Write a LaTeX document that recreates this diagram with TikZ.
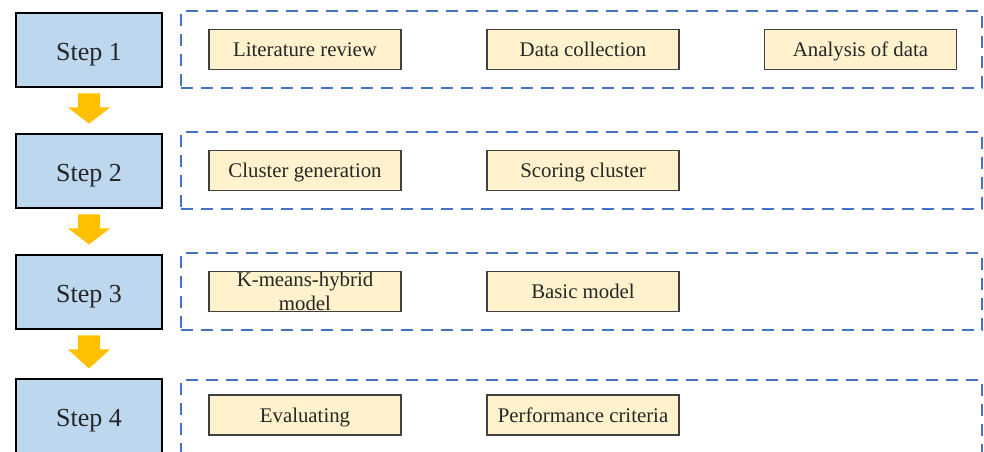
\documentclass[tikz,border=0pt]{standalone}
\usepackage{fontspec}
\setmainfont{Liberation Serif}
\usepackage{tikz}
\usetikzlibrary{calc,positioning}
\definecolor{stepblue}{HTML}{BDD7EE}
\definecolor{taskfill}{HTML}{FFF2CC}
\definecolor{framedash}{HTML}{4472C4}
\definecolor{arrowgold}{HTML}{FFC000}
\definecolor{inktext}{HTML}{262626}
\tikzset{
  stepbox/.style={draw=black,line width=2pt,fill=stepblue,minimum width=3.65cm,minimum height=1.85cm,
    font=\fontsize{18.5}{20}\selectfont,text=inktext,inner sep=0pt,text height=16.4pt,text depth=1pt},
  taskbase/.style={draw=black!75,line width=0.8pt,fill=taskfill,minimum width=4.8cm,minimum height=1cm,
    inner sep=0pt,font=\fontsize{14.8}{15.5}\selectfont,text=inktext,align=center},
  taskbox/.style={taskbase,text height=11.6pt,text depth=1pt},
  stageframe/.style={draw=framedash,line width=1.4pt,dash pattern=on 0.3cm off 0.2cm,
    minimum width=20cm,minimum height=1.92cm},
}
\begin{document}
\begin{tikzpicture}[x=0.025cm,y=-0.025cm]
\useasboundingbox (0,0) rectangle (984,452);
% steps
\node[stepbox] (s1) at (89,50) {Step 1};
\node[stepbox] (s2) at (89,171) {Step 2};
\node[stepbox] (s3) at (89,292) {Step 3};
\node[stepbox] (s4) at (89,416) {Step 4};
% dashed frames
\node[stageframe] (f1) at (581.5,49.5) {};
\node[stageframe] (f2) at (581.5,170.5) {};
\node[stageframe] (f3) at (581.5,291.5) {};
\node[stageframe] (f4) at (581.5,418) {};
% tasks
\node[taskbox] (lit) at (305,49.5) {Literature review};
\node[taskbox] (coll) at (583,49.5) {Data collection};
\node[taskbox] (ana) at (860.5,49.5) {Analysis of data};
\node[taskbox] (gen) at (305,170.5) {Cluster generation};
\node[taskbox] (score) at (583,170.5) {Scoring cluster};
\node[taskbase,text width=4.6cm,font=\fontsize{14.8}{17.5}\selectfont] (kmh) at (305,291.5) {K-means-hybrid\\model};
\node[taskbox] (basic) at (583,291.5) {Basic model};
\node[taskbox] (eval) at (305,415) {Evaluating};
\node[taskbox] (perf) at (583,415) {Performance criteria};
% arrows between steps
\foreach \a/\b in {s1/s2,s2/s3,s3/s4}{
  \coordinate (t) at ($(\a.south)+(0,5)$);
  \coordinate (h) at ($(\b.north)+(0,-9)$);
  \fill[arrowgold] ($(t)+(-11,0)$) -- ($(t)+(11,0)$) -- ($(t)+(11,14)$) -- ($(t)+(21,14)$)
    -- (h) -- ($(t)+(-21,14)$) -- ($(t)+(-11,14)$) -- cycle;
}
\end{tikzpicture}
\end{document}
